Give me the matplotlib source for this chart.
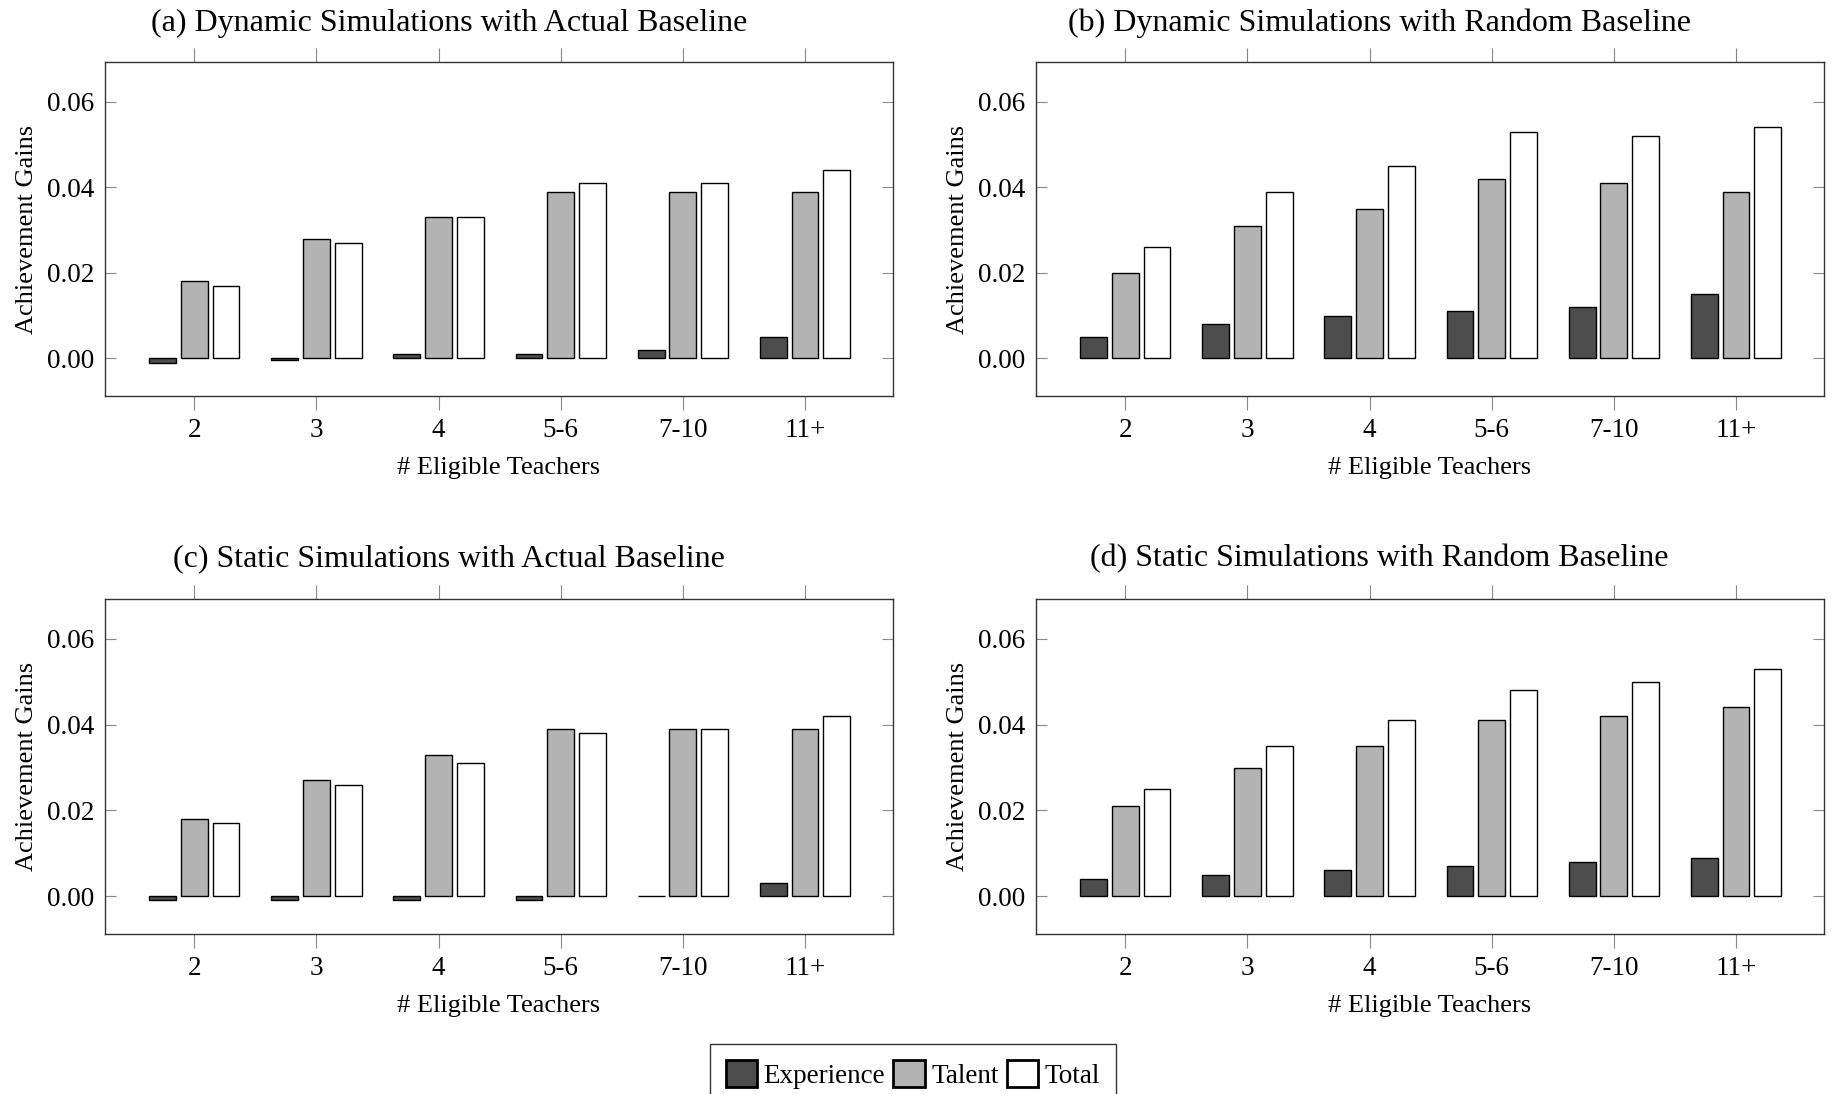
import matplotlib.pyplot as plt
from matplotlib.patches import Patch
import numpy as np

plt.rcParams['font.family'] = ['Liberation Serif', 'DejaVu Serif']

categories = ['2', '3', '4', '5-6', '7-10', '11+']
titles = ['(a) Dynamic Simulations with Actual Baseline',
          '(b) Dynamic Simulations with Random Baseline',
          '(c) Static Simulations with Actual Baseline',
          '(d) Static Simulations with Random Baseline']

exp_a = [-0.001, -0.0004, 0.001, 0.001, 0.002, 0.005]
tal_a = [0.018, 0.028, 0.033, 0.039, 0.039, 0.039]
tot_a = [0.017, 0.027, 0.033, 0.041, 0.041, 0.044]

exp_b = [0.005, 0.008, 0.010, 0.011, 0.012, 0.015]
tal_b = [0.020, 0.031, 0.035, 0.042, 0.041, 0.039]
tot_b = [0.026, 0.039, 0.045, 0.053, 0.052, 0.054]

exp_c = [-0.001, -0.001, -0.001, -0.001, 0.0, 0.003]
tal_c = [0.018, 0.027, 0.033, 0.039, 0.039, 0.039]
tot_c = [0.017, 0.026, 0.031, 0.038, 0.039, 0.042]

exp_d = [0.004, 0.005, 0.006, 0.007, 0.008, 0.009]
tal_d = [0.021, 0.030, 0.035, 0.041, 0.042, 0.044]
tot_d = [0.025, 0.035, 0.041, 0.048, 0.050, 0.053]

panels = [(exp_a, tal_a, tot_a), (exp_b, tal_b, tot_b),
          (exp_c, tal_c, tot_c), (exp_d, tal_d, tot_d)]

colors = ['#4d4d4d', '#b3b3b3', 'white']
labels = ['Experience', 'Talent', 'Total']

fig = plt.figure(figsize=(18.37, 10.94), dpi=100)
positions = [[0.0572, 0.638, 0.4289, 0.3053],
             [0.5640, 0.638, 0.4289, 0.3053],
             [0.0572, 0.1463, 0.4289, 0.3062],
             [0.5640, 0.1463, 0.4289, 0.3062]]
# captions sit a bit left of the axes centre (centred on the whole subfigure)
title_xy = [(0.2443, 0.979), (0.7507, 0.979), (0.2443, 0.4895), (0.7507, 0.4895)]

x = np.arange(len(categories))
width = 0.22
offsets = [-0.26, 0.0, 0.26]

for pos, title, txy, series in zip(positions, titles, title_xy, panels):
    ax = fig.add_axes(pos)
    for vals, off, col in zip(series, offsets, colors):
        ax.bar(x + off, vals, width, color=col, edgecolor='black', linewidth=1.0)
    ax.set_xlim(-0.73, 5.72)
    ax.set_ylim(-0.0088, 0.0693)
    ax.set_xticks(x)
    ax.set_xticklabels(categories)
    ax.set_yticks([0.0, 0.02, 0.04, 0.06])
    ax.set_yticklabels(['0.00', '0.02', '0.04', '0.06'])
    ax.tick_params(axis='x', direction='out', top=True, length=10, width=0.8,
                   color='#888888', labelsize=19.5, pad=6)
    ax.tick_params(axis='y', direction='in', right=True, length=8, width=0.8,
                   color='#888888', labelsize=19.5, pad=8)
    for sp in ax.spines.values():
        sp.set_linewidth(1.0)
        sp.set_color('#333333')
    ax.set_xlabel('# Eligible Teachers', fontsize=19, labelpad=10)
    ax.set_ylabel('Achievement Gains', fontsize=19, labelpad=6)
    fig.text(txy[0], txy[1], title, fontsize=23, ha='center', va='center')

handles = [Patch(facecolor=c, edgecolor='black', linewidth=2) for c in colors]
fig.legend(handles, labels, loc='upper center', bbox_to_anchor=(0.497, 0.053),
           ncol=3, fontsize=19.5, frameon=True, fancybox=False, edgecolor='black',
           handlelength=1.15, handleheight=1.15, handletextpad=0.25, columnspacing=0.3,
           borderpad=0.6, borderaxespad=0.3)

fig.savefig('out.png', dpi=100)
